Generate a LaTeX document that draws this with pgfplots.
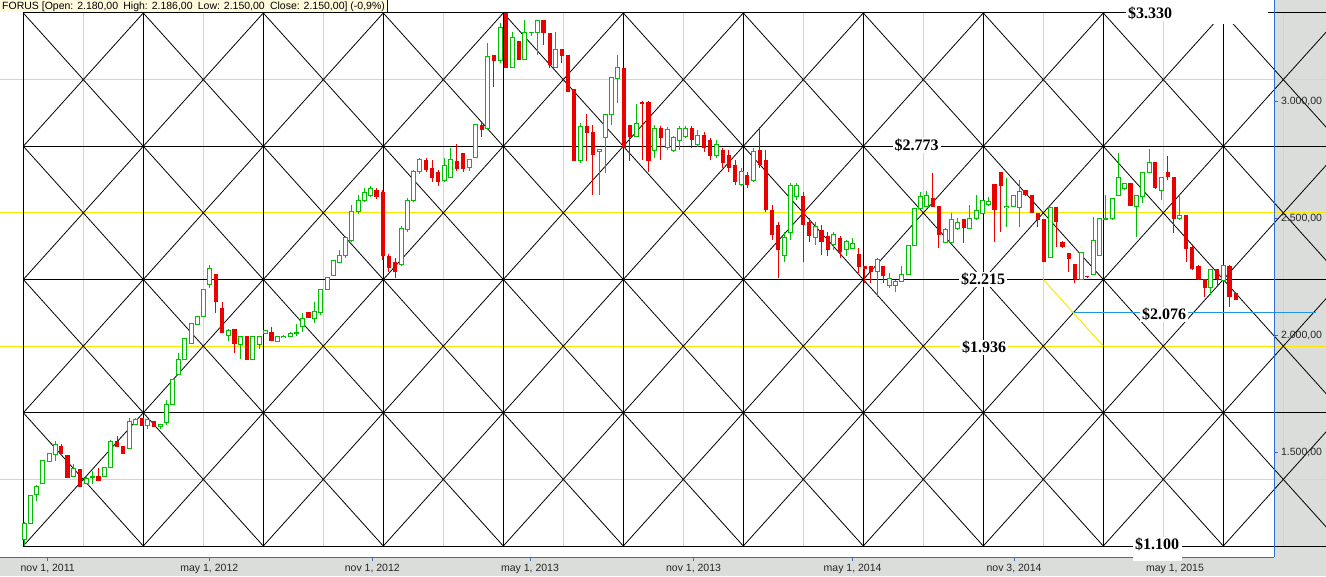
\documentclass[border=0pt]{standalone}
\usepackage{pgfplots}
\pgfplotsset{compat=1.18}
\usepackage{pgfplotstable}
\usepackage{fontspec}
\setmainfont{Liberation Sans}
\newfontfamily\gannfont{Liberation Serif}
\definecolor{cgreen}{RGB}{0,190,0}
\definecolor{cred}{RGB}{235,0,0}
\definecolor{axblue}{RGB}{50,110,205}
\definecolor{gyel}{RGB}{255,230,0}
\definecolor{bgray}{RGB}{219,221,218}
\definecolor{lblue}{RGB}{30,150,225}
\definecolor{titlebg}{RGB}{255,250,220}

% weekly candles: i = week index, O H L C
\pgfplotstableread{
i O H L C
0 1130 1204 1101 1198
1 1198 1319 1195 1316
2 1319 1360 1293 1357
3 1366 1468 1366 1464
4 1461 1498 1460 1497
5 1490 1549 1464 1535
8 1396 1451 1395 1434
10 1366 1396 1364 1390
11 1395 1421 1366 1397
13 1397 1438 1395 1436
14 1436 1554 1435 1548
17 1518 1646 1517 1634
18 1618 1646 1617 1639
20 1615 1640 1601 1639
22 1612 1622 1601 1621
23 1630 1724 1618 1707
24 1704 1814 1702 1813
25 1834 1925 1833 1898
26 1898 1989 1897 1988
27 1966 2053 1963 2049
28 2046 2082 2044 2079
29 2079 2198 2077 2197
30 2218 2301 2202 2287
33 1998 2027 1977 2023
35 1963 1998 1899 1997
37 1898 1999 1897 1997
38 1963 1998 1942 1997
39 2009 2023 2006 2020
41 1975 1998 1974 1997
42 1992 2002 1988 1997
43 1997 2014 1993 2009
44 2010 2049 1997 2012
45 2040 2097 2016 2074
47 2074 2144 2052 2101
48 2097 2198 2087 2197
49 2197 2251 2196 2249
50 2255 2322 2253 2318
51 2312 2365 2309 2339
52 2339 2424 2330 2416
53 2407 2557 2399 2527
54 2527 2599 2518 2578
55 2578 2629 2569 2612
56 2599 2638 2591 2625
61 2301 2467 2296 2458
62 2450 2587 2441 2578
63 2578 2706 2569 2698
64 2698 2757 2689 2749
68 2663 2757 2655 2727
69 2676 2800 2672 2749
72 2718 2750 2703 2749
73 2760 2900 2757 2899
75 2884 3249 2883 3190
77 3173 3332 3164 3315
79 3144 3294 3144 3272
81 3176 3346 3175 3294
82 3291 3295 3278 3294
83 3292 3347 3197 3346
86 3144 3294 3144 3221
90 2746 2905 2735 2893
93 2783 2796 2599 2794
94 2846 2946 2695 2945
95 2944 3102 2899 3101
96 3097 3197 2993 3144
99 2848 2988 2847 2903
102 2791 2898 2757 2885
104 2800 2890 2791 2877
105 2791 2851 2783 2843
106 2834 2894 2791 2885
107 2851 2894 2843 2885
109 2813 2877 2804 2855
112 2770 2834 2757 2813
116 2646 2715 2638 2698
118 2663 2800 2655 2783
123 2343 2441 2313 2416
124 2441 2651 2407 2638
125 2595 2651 2578 2638
128 2416 2484 2386 2467
131 2386 2441 2365 2429
133 2365 2407 2339 2399
134 2372 2415 2369 2393
138 2272 2330 2165 2322
140 2211 2265 2201 2244
141 2211 2236 2187 2232
142 2232 2296 2228 2261
143 2258 2386 2257 2385
144 2385 2544 2384 2543
145 2543 2613 2540 2592
146 2549 2616 2548 2599
149 2397 2457 2394 2450
150 2397 2521 2394 2496
151 2458 2501 2450 2484
153 2457 2557 2454 2500
154 2497 2599 2493 2535
155 2521 2578 2518 2575
156 2557 2590 2552 2571
159 2547 2671 2464 2552
160 2549 2599 2548 2598
161 2547 2663 2464 2613
166 2333 2548 2330 2547
171 2239 2356 2236 2355
173 2261 2507 2258 2407
174 2343 2498 2342 2497
175 2495 2599 2492 2497
176 2497 2586 2492 2585
177 2599 2780 2595 2673
178 2628 2650 2621 2649
180 2552 2600 2421 2599
181 2592 2697 2565 2696
182 2696 2794 2693 2739
184 2618 2676 2578 2675
187 2497 2599 2493 2511
192 2204 2283 2173 2282
194 2236 2299 2232 2297
}\greentab

\pgfplotstableread{
i O H L C
6 1528 1538 1494 1494
7 1490 1490 1391 1393
9 1430 1431 1352 1353
12 1400 1435 1378 1380
15 1549 1571 1523 1525
16 1528 1529 1494 1495
19 1646 1648 1613 1615
21 1633 1635 1609 1610
31 2262 2263 2097 2144
32 2116 2144 2010 2012
34 2027 2028 1925 1963
36 1997 1998 1894 1895
40 2016 2035 1976 1977
46 2101 2102 2074 2075
57 2621 2629 2582 2591
58 2612 2621 2322 2339
59 2339 2348 2271 2288
60 2313 2330 2245 2271
65 2749 2757 2698 2706
66 2715 2749 2655 2672
67 2698 2706 2638 2655
70 2745 2817 2703 2710
71 2777 2779 2699 2709
74 2899 2907 2845 2876
76 3197 3198 3062 3173
78 3375 3376 3142 3143
80 3257 3258 3175 3176
84 3346 3347 3240 3290
85 3290 3291 3143 3154
87 3221 3222 3164 3194
88 3197 3198 3039 3040
89 3050 3051 2745 2746
91 2894 2945 2746 2865
92 2868 2899 2599 2770
97 3141 3142 2798 2799
98 2899 2900 2746 2848
100 2996 3000 2749 2988
101 2996 3001 2699 2746
103 2885 2894 2749 2843
108 2885 2894 2800 2834
110 2855 2868 2783 2800
111 2834 2843 2749 2766
113 2791 2800 2715 2736
114 2770 2791 2698 2715
115 2727 2749 2642 2655
117 2685 2698 2629 2642
119 2791 2890 2715 2727
120 2749 2791 2527 2535
121 2535 2557 2407 2429
122 2471 2484 2245 2365
126 2595 2612 2313 2471
127 2484 2501 2399 2424
129 2450 2471 2343 2399
130 2424 2441 2339 2365
132 2416 2424 2330 2356
135 2346 2372 2265 2293
136 2296 2297 2222 2282
137 2296 2297 2222 2272
139 2296 2297 2222 2254
147 2588 2692 2548 2549
148 2552 2553 2372 2429
152 2497 2498 2396 2457
157 2646 2647 2400 2535
158 2696 2698 2443 2639
162 2621 2622 2595 2599
163 2599 2600 2522 2524
164 2521 2522 2464 2493
165 2497 2498 2313 2315
167 2547 2548 2379 2485
168 2400 2403 2373 2376
169 2350 2351 2272 2325
170 2305 2306 2222 2239
172 2254 2255 2245 2248
179 2649 2650 2551 2552
183 2739 2740 2625 2628
185 2696 2766 2663 2677
186 2677 2678 2436 2497
188 2514 2515 2315 2368
189 2379 2380 2279 2282
190 2298 2299 2236 2241
191 2241 2242 2165 2204
193 2282 2283 2208 2239
195 2297 2299 2123 2165
196 2180 2186 2150 2150
}\redtab

\begin{document}
\begin{tikzpicture}
\useasboundingbox (0pt,0pt) rectangle (1326pt,576pt);
\fill[bgray] (0pt,0pt) rectangle (1326pt,576pt);
\fill[white] (0pt,19pt) rectangle (1274pt,576pt);

% ---- Gann square overlay (cell units) ----
\begin{axis}[at={(0pt,29.5pt)}, anchor=south west, scale only axis,
  width=1326pt, height=534pt,
  xmin=-0.19417, xmax=10.85583, ymin=-0.00375, ymax=4.00375,
  hide axis, clip=true]
\addplot[gyel, line width=0.9pt, unbounded coords=jump] coordinates {
 (-0.3,0.5) (11,0.5) (nan,nan) (-0.3,2.5) (11,2.5) (nan,nan) (-0.3,3.5) (11,3.5) (nan,nan)
 (0.5,0) (0.5,4) (nan,nan) (1.5,0) (1.5,4) (nan,nan) (2.5,0) (2.5,4) (nan,nan)
 (3.5,0) (3.5,4) (nan,nan) (4.5,0) (4.5,4) (nan,nan) (5.5,0) (5.5,4) (nan,nan)
 (6.5,0) (6.5,4) (nan,nan) (7.5,0) (7.5,4) (nan,nan) (8.5,0) (8.5,4) (nan,nan)
 (9.5,0) (9.5,4) (nan,nan) (10.5,0) (10.5,4)};
\addplot[gyel, line width=1.2pt] coordinates {(-0.3,1.5) (11,1.5)};
\addplot[black, line width=0.8pt, unbounded coords=jump] coordinates {
 (0,3) (1,4) (nan,nan) (0,2) (2,4) (nan,nan) (0,1) (3,4) (nan,nan)
 (0,0) (4,4) (nan,nan) (1,0) (5,4) (nan,nan) (2,0) (6,4) (nan,nan)
 (3,0) (7,4) (nan,nan) (4,0) (8,4) (nan,nan) (5,0) (9,4) (nan,nan)
 (6,0) (10,4) (nan,nan) (7,0) (11,4) (nan,nan) (8,0) (12,4) (nan,nan)
 (9,0) (13,4) (nan,nan) (10,0) (14,4) (nan,nan)
 (1,0) (0,1) (nan,nan) (2,0) (0,2) (nan,nan) (3,0) (0,3) (nan,nan)
 (4,0) (0,4) (nan,nan) (5,0) (1,4) (nan,nan) (6,0) (2,4) (nan,nan)
 (7,0) (3,4) (nan,nan) (8,0) (4,4) (nan,nan) (9,0) (5,4) (nan,nan)
 (10,0) (6,4) (nan,nan) (11,0) (7,4) (nan,nan) (12,0) (8,4) (nan,nan)
 (13,0) (9,4) (nan,nan) (14,0) (10,4)};
\addplot[black, line width=1pt, unbounded coords=jump] coordinates {
 (0,0) (11,0) (nan,nan) (0,1) (11,1) (nan,nan) (0,2) (11,2) (nan,nan)
 (0,3) (11,3) (nan,nan) (0,4) (9.53,4) (nan,nan) (10.37,4) (11,4) (nan,nan)
 (0,0) (0,4) (nan,nan) (1,0) (1,4) (nan,nan) (2,0) (2,4) (nan,nan)
 (3,0) (3,4) (nan,nan) (4,0) (4,4) (nan,nan) (5,0) (5,4) (nan,nan)
 (6,0) (6,4) (nan,nan) (7,0) (7,4) (nan,nan) (8,0) (8,4) (nan,nan)
 (9,0) (9,4) (nan,nan) (10,0) (10,3.917)};
\addplot[lblue, line width=1pt] coordinates {(8.739,1.754) (10.773,1.754)};
\addplot[gyel, line width=1pt] coordinates {(8.5,2) (9,1.5)};
\end{axis}
% gap at the top right of the overlay
\fill[white] (1176pt,552pt) rectangle (1268pt,563.6pt);

% ---- price chart ----
\begin{axis}[at={(0pt,19pt)}, anchor=south west, scale only axis,
  width=1274pt, height=557pt,
  xmin=-3.932, xmax=202.217, ymin=1054.2, ymax=3431.7,
  axis x line*=bottom, axis y line*=right,
  axis line style={draw=axblue, line width=1pt, -},
  every outer x axis line/.append style={-},
  every outer y axis line/.append style={-},
  xtick={3.786,29.935,56.311,81.828,108.285,134.029,160.146,186.197},
  xticklabels={{nov 1, 2011},{may 1, 2012},{nov 1, 2012},{may 1, 2013},{nov 1, 2013},{may 1, 2014},{nov 3, 2014},{may 1, 2015}},
  ytick={1500,2000,2500,3000},
  yticklabels={{1.500,00},{2.000,00},{2.500,00},{3.000,00}},
  tick align=outside, major tick length=3.5pt, minor tick num=0,
  tick style={draw=axblue, line width=1pt},
  ticklabel style={font=\fontsize{10.5}{12}\selectfont, text=black!85},
  ]
\addplot[cgreen, line width=1pt, -, quiver={u=0, v={\thisrow{H}-\thisrow{L}}}]
  table[x=i, y=L] {\greentab};
\addplot[cred, line width=1pt, -, quiver={u=0, v={\thisrow{H}-\thisrow{L}}}]
  table[x=i, y=L] {\redtab};
\addplot[cgreen, line width=5pt, -, quiver={u=0, v={\thisrow{C}-\thisrow{O}+4.27}}]
  table[x=i, y expr={\thisrow{O}-2.13}] {\greentab};
\addplot[white, line width=3pt, -, quiver={u=0, v={max(\thisrow{C}-\thisrow{O}-4.27,0)}}]
  table[x=i, y expr={\thisrow{O}+2.13}] {\greentab};
\addplot[cred, line width=4.2pt, -, quiver={u=0, v={\thisrow{C}-\thisrow{O}}}]
  table[x=i, y=O] {\redtab};
\end{axis}

% ---- Gann level labels ----
\tikzset{gann/.style={anchor=base, fill=white, inner xsep=2pt, inner ysep=1pt,
  font=\gannfont\bfseries\fontsize{16}{16}\selectfont}}
\node[gann] at (1150pt,557.7pt) {\$3.330};
\node[gann] at (916.5pt,425.3pt) {\$2.773};
\node[gann] at (983pt,291pt) {\$2.215};
\node[gann] at (1164pt,256.7pt) {\$2.076};
\node[gann] at (984pt,223.5pt) {\$1.936};
\fill[white] (1133pt,15pt) rectangle (1182pt,30pt);
\node[gann] at (1157pt,26.5pt) {\$1.100};

% ---- title bar ----
\fill[titlebg] (0pt,564pt) rectangle (387pt,576pt);
\draw[line width=1pt, black!60!blue] (387pt,564pt) -- (387pt,576pt);
\node[anchor=base west, inner sep=0pt, font=\fontsize{10.5}{12}\selectfont]
  at (2pt,566.3pt) {FORUS [Open: 2.180,00\enspace High: 2.186,00\enspace Low: 2.150,00\enspace Close: 2.150,00] (-0,9\%)};
\end{tikzpicture}
\end{document}
